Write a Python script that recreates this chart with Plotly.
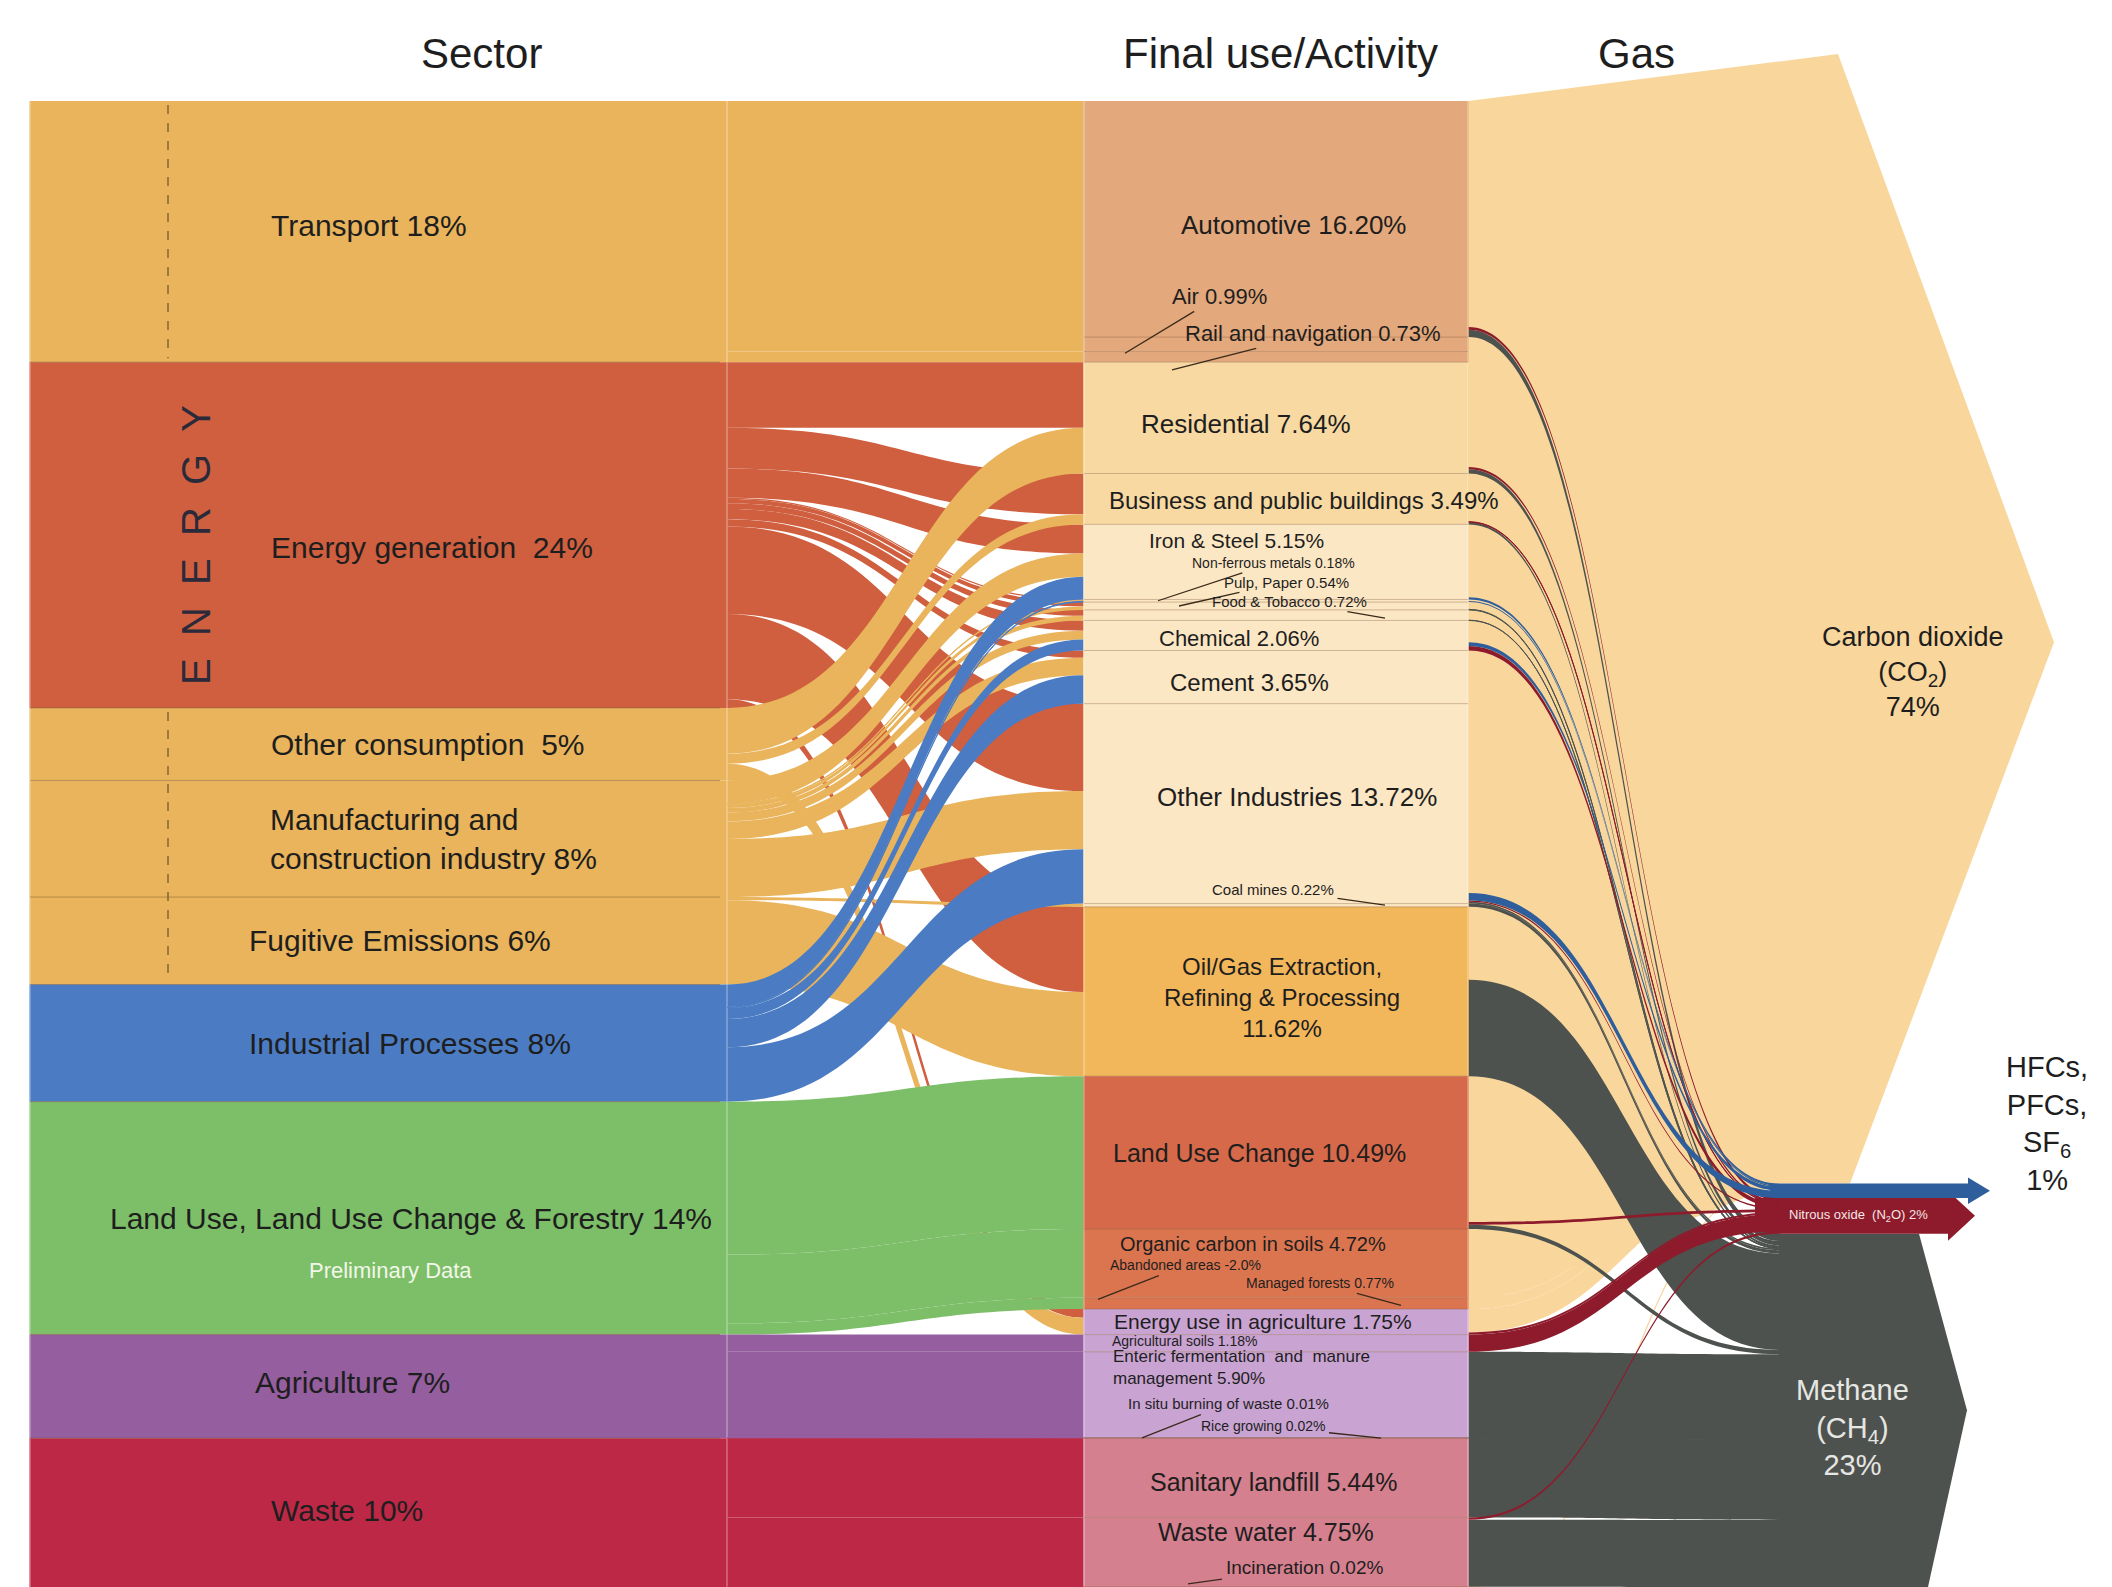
import plotly.graph_objects as go

W, H = 2112, 1587
TOP = 101          # px where the flow region starts
FONT = "Liberation Sans, Arial, Helvetica, sans-serif"

# ---------------- data ----------------
sectors = ["Transport", "Energy generation", "Other consumption",
           "Manufacturing and construction industry", "Fugitive Emissions",
           "Industrial Processes", "Land Use, Land Use Change & Forestry",
           "Agriculture", "Waste"]
sector_labels = ["Transport 18%", "Energy generation\u00a0 24%", "Other consumption\u00a0 5%",
                 "Manufacturing and<br>construction industry 8%", "Fugitive Emissions 6%",
                 "Industrial Processes 8%", "Land Use, Land Use Change & Forestry 14%",
                 "Agriculture 7%", "Waste 10%"]
sector_colors = ["#E9B45B", "#CF5F3F", "#E9B45B", "#E9B45B", "#E9B45B",
                 "#4B7CC3", "#7DBF68", "#955E9F", "#BD2846"]

activities = ["Automotive", "Air", "Rail and navigation", "Residential",
              "Business and public buildings", "Iron & Steel", "Non-ferrous metals",
              "Pulp, Paper", "Food & Tobacco", "Chemical", "Cement", "Other Industries",
              "Coal mines", "Oil/Gas Extraction, Refining & Processing", "Land Use Change",
              "Organic carbon in soils", "Managed forests", "Energy use in agriculture",
              "Agricultural soils", "Enteric fermentation and manure management",
              "In situ burning of waste", "Rice growing", "Sanitary landfill",
              "Waste water", "Incineration"]
activity_colors = ["#E3A87B", "#E3A87B", "#E3A87B", "#F8D9A2", "#F8D9A2",
                   "#FCE7C4", "#FCE7C4", "#FCE7C4", "#FCE7C4", "#FCE7C4", "#FCE7C4",
                   "#FCE7C4", "#FCE7C4", "#F2B65B", "#D6694A", "#DB7550", "#DB7550",
                   "#C9A3D2", "#C9A3D2", "#C9A3D2", "#C9A3D2", "#C9A3D2",
                   "#D5808F", "#D5808F", "#D5808F"]

gases = ["CO2", "HFCs", "N2O", "CH4"]
gas_colors = ["#F9D79C", "#2F5E9C", "#8E1B2B", "#4E524F"]

# sector -> final use / activity (% of total emissions)
sa_from = ["Transport", "Transport", "Transport",
           "Energy generation", "Energy generation", "Energy generation", "Energy generation",
           "Energy generation", "Energy generation", "Energy generation", "Energy generation",
           "Energy generation", "Energy generation", "Energy generation",
           "Other consumption", "Other consumption", "Other consumption",
           "Manufacturing and construction industry", "Manufacturing and construction industry",
           "Manufacturing and construction industry", "Manufacturing and construction industry",
           "Manufacturing and construction industry", "Manufacturing and construction industry",
           "Manufacturing and construction industry",
           "Fugitive Emissions", "Fugitive Emissions",
           "Industrial Processes", "Industrial Processes", "Industrial Processes",
           "Industrial Processes", "Industrial Processes",
           "Land Use, Land Use Change & Forestry", "Land Use, Land Use Change & Forestry",
           "Land Use, Land Use Change & Forestry",
           "Agriculture", "Agriculture", "Agriculture", "Agriculture",
           "Waste", "Waste", "Waste"]
sa_to = ["Automotive", "Air", "Rail and navigation",
         "Residential", "Business and public buildings", "Iron & Steel", "Non-ferrous metals",
         "Pulp, Paper", "Food & Tobacco", "Chemical", "Cement", "Other Industries",
         "Oil/Gas Extraction, Refining & Processing", "Energy use in agriculture",
         "Residential", "Business and public buildings", "Energy use in agriculture",
         "Iron & Steel", "Non-ferrous metals", "Pulp, Paper", "Food & Tobacco", "Chemical",
         "Cement", "Other Industries",
         "Coal mines", "Oil/Gas Extraction, Refining & Processing",
         "Iron & Steel", "Non-ferrous metals", "Chemical", "Cement", "Other Industries",
         "Land Use Change", "Organic carbon in soils", "Managed forests",
         "Agricultural soils", "Enteric fermentation and manure management",
         "In situ burning of waste", "Rice growing",
         "Sanitary landfill", "Waste water", "Incineration"]
sa_val = [16.20, 0.99, 0.73,
          4.50, 2.80, 2.00, 0.08, 0.30, 0.40, 0.70, 0.50, 6.00, 5.84, 0.60,
          3.14, 0.69, 1.15,
          1.60, 0.05, 0.24, 0.32, 0.60, 1.20, 3.99,
          0.22, 5.78,
          1.55, 0.05, 0.76, 1.95, 3.73,
          10.49, 4.72, 0.77,
          1.18, 5.90, 0.01, 0.02,
          5.44, 4.75, 0.02]

# activity -> gas
ag_from = ["Automotive", "Automotive", "Automotive", "Air", "Rail and navigation",
           "Residential", "Residential", "Residential",
           "Business and public buildings", "Business and public buildings",
           "Business and public buildings",
           "Iron & Steel", "Iron & Steel", "Non-ferrous metals", "Non-ferrous metals",
           "Pulp, Paper", "Pulp, Paper", "Food & Tobacco", "Food & Tobacco",
           "Chemical", "Chemical", "Chemical", "Cement",
           "Other Industries", "Other Industries", "Other Industries", "Other Industries",
           "Coal mines",
           "Oil/Gas Extraction, Refining & Processing", "Oil/Gas Extraction, Refining & Processing",
           "Land Use Change", "Land Use Change", "Land Use Change",
           "Organic carbon in soils", "Managed forests",
           "Energy use in agriculture", "Energy use in agriculture",
           "Agricultural soils", "Enteric fermentation and manure management",
           "In situ burning of waste", "Rice growing", "Sanitary landfill",
           "Waste water", "Waste water", "Incineration"]
ag_to = ["CO2", "N2O", "CH4", "CO2", "CO2",
         "CO2", "N2O", "CH4",
         "CO2", "N2O", "CH4",
         "CO2", "HFCs", "CO2", "HFCs",
         "CO2", "CH4", "CO2", "CH4",
         "CO2", "HFCs", "N2O", "CO2",
         "CO2", "HFCs", "N2O", "CH4",
         "CH4",
         "CO2", "CH4",
         "CO2", "N2O", "CH4",
         "CO2", "CO2",
         "CO2", "N2O",
         "N2O", "CH4",
         "CH4", "CH4", "CH4",
         "CH4", "N2O", "CO2"]
ag_val = [15.50, 0.20, 0.50, 0.99, 0.73,
          7.20, 0.14, 0.30,
          3.30, 0.04, 0.15,
          5.00, 0.15, 0.10, 0.08,
          0.50, 0.04, 0.70, 0.02,
          1.50, 0.26, 0.30, 3.65,
          13.00, 0.50, 0.10, 0.12,
          0.22,
          5.00, 6.62,
          10.00, 0.19, 0.30,
          4.72, 0.77,
          1.60, 0.15,
          1.18, 5.90,
          0.01, 0.02, 5.44,
          4.60, 0.15, 0.02]

# ---------------- layout helpers ----------------
sec_tot = [sum(v for s, v in zip(sa_from, sa_val) if s == n) for n in sectors]
act_tot = [sum(v for a, v in zip(sa_to, sa_val) if a == n) for n in activities]
gas_tot = [sum(v for g, v in zip(ag_to, ag_val) if g == n) for n in gases]
T = sum(sec_tot)
HD = H - TOP


def stack(vals):
    out, c = [], 0.0
    for v in vals:
        out.append((c, c + v))
        c += v
    return out


sec_ext, act_ext, gas_ext = stack(sec_tot), stack(act_tot), stack(gas_tot)


def ypx(v):
    return TOP + v / T * HD


def cen(ext):
    return ypx((ext[0] + ext[1]) / 2)


def xp(px):
    return px / W


def yp(px):
    return 1 - px / H


COLX = [30, 727, 1084, 1468, 1780]
NS, NA, NG = len(sectors), len(activities), len(gases)

node_x, node_y, node_c = [], [], []
for col, (ext, cols) in enumerate([(sec_ext, sector_colors), (sec_ext, sector_colors),
                                   (act_ext, activity_colors), (act_ext, activity_colors),
                                   (gas_ext, gas_colors)]):
    for (a, b), c in zip(ext, cols):
        node_x.append(COLX[col] / W)
        node_y.append((a + b) / 2 / T)
        node_c.append(c)

src, tgt, val, lcol = [], [], [], []
for i in range(NS):
    src.append(i); tgt.append(NS + i); val.append(sec_tot[i]); lcol.append(sector_colors[i])
for s, a, v in zip(sa_from, sa_to, sa_val):
    si = sectors.index(s)
    src.append(NS + si); tgt.append(2 * NS + activities.index(a)); val.append(v)
    lcol.append(sector_colors[si])
for j in range(NA):
    src.append(2 * NS + j); tgt.append(2 * NS + NA + j); val.append(act_tot[j])
    lcol.append(activity_colors[j])
# gas flows: CO2 first so that the thin CH4 / N2O / HFC flows are drawn on top
draw_order = ["CO2", "CH4", "N2O", "HFCs"]
for gname in draw_order:
    for a, g, v in zip(ag_from, ag_to, ag_val):
        if g != gname:
            continue
        gi = gases.index(g)
        src.append(2 * NS + NA + activities.index(a)); tgt.append(2 * NS + 2 * NA + gi)
        val.append(v); lcol.append(gas_colors[gi])

fig = go.Figure(go.Sankey(
    arrangement="fixed",
    domain=dict(x=[0, 1], y=[0, 1 - TOP / H]),
    node=dict(pad=0, thickness=1, x=node_x, y=node_y, color=node_c,
              line=dict(color="rgba(255,255,255,0)", width=0), hoverinfo="none"),
    link=dict(source=src, target=tgt, value=val, color=lcol,
              line=dict(color="rgba(255,255,255,0.6)", width=0), hoverinfo="none"),
))

# ---------------- gas arrows and dividers (shapes) ----------------
co2_top, co2_bot = ypx(gas_ext[0][0]), ypx(gas_ext[0][1])
hfc_top, hfc_bot = ypx(gas_ext[1][0]), ypx(gas_ext[1][1])
n2o_top, n2o_bot = ypx(gas_ext[2][0]), ypx(gas_ext[2][1])
ch4_top, ch4_bot = ypx(gas_ext[3][0]), ypx(gas_ext[3][1])
ll = ypx(act_ext[activities.index("Managed forests")][1])


def path(pts):
    return "M " + " L ".join(f"{xp(x):.5f},{yp(y):.5f}" for x, y in pts) + " Z"


shapes = [
    dict(type="path", xref="paper", yref="paper", layer="below", line=dict(width=0),
         fillcolor=gas_colors[0],
         path=path([(1468, co2_top), (1838, 54), (2054, (co2_top + co2_bot) / 2),
                    (1850, co2_bot), (1780, co2_bot), (1468, ll)])),
    dict(type="path", xref="paper", yref="paper", layer="below", line=dict(width=0),
         fillcolor=gas_colors[3],
         path=path([(1779, ch4_top), (1919, ch4_top), (1967, (ch4_top + ch4_bot) / 2),
                    (1928, ch4_bot), (1779, ch4_bot)])),
    dict(type="path", xref="paper", yref="paper", layer="below", line=dict(width=0),
         fillcolor=gas_colors[2],
         path=path([(1755, n2o_top), (1948, n2o_top), (1948, n2o_top - 7),
                    (1975, (n2o_top + n2o_bot) / 2), (1948, n2o_bot + 7),
                    (1948, n2o_bot), (1755, n2o_bot)])),
    dict(type="path", xref="paper", yref="paper", layer="below", line=dict(width=0),
         fillcolor=gas_colors[1],
         path=path([(1770, hfc_top), (1968, hfc_top), (1968, hfc_top - 6),
                    (1990, (hfc_top + hfc_bot) / 2), (1968, hfc_bot + 6),
                    (1968, hfc_bot), (1770, hfc_bot)])),
    dict(type="line", xref="paper", yref="paper", layer="above",
         x0=xp(168), x1=xp(168), y0=yp(ypx(sec_ext[0][0]) + 4), y1=yp(ypx(sec_ext[0][1]) - 4),
         line=dict(color="rgba(110,80,40,0.8)", width=1.5, dash="dash")),
    dict(type="line", xref="paper", yref="paper", layer="above",
         x0=xp(168), x1=xp(168), y0=yp(ypx(sec_ext[2][0]) + 4), y1=yp(ypx(sec_ext[4][1]) - 4),
         line=dict(color="rgba(110,80,40,0.8)", width=1.5, dash="dash")),
]
# thin divider lines between stacked blocks
for a, b in sec_ext[1:]:
    shapes.append(dict(type="line", xref="paper", yref="paper", layer="above",
                       x0=xp(30), x1=xp(720), y0=yp(ypx(a)), y1=yp(ypx(a)),
                       line=dict(color="rgba(120,85,45,0.45)", width=1)))
for a, b in act_ext[1:]:
    shapes.append(dict(type="line", xref="paper", yref="paper", layer="above",
                       x0=xp(1084), x1=xp(1468), y0=yp(ypx(a)), y1=yp(ypx(a)),
                       line=dict(color="rgba(140,95,60,0.4)", width=1)))

# ---------------- text ----------------
ann = []


def label(text, x, y, size, color="#1e1e1e", xanchor="center", target=None, align="center"):
    d = dict(text=text, xref="paper", yref="paper", xanchor=xanchor, yanchor="middle",
             align=align, font=dict(family=FONT, size=size, color=color))
    if target is None:
        d.update(x=xp(x), y=yp(y), showarrow=False)
    else:
        tx, ty = target
        d.update(x=xp(tx), y=yp(ty), ax=x - tx, ay=y - ty, showarrow=True, arrowhead=0,
                 arrowwidth=1.3, arrowcolor="#3a2a1a", standoff=0, startstandoff=2)
    ann.append(d)


# headers
label("Sector", 481, 54, 42)
label("Final use/Activity", 1280, 54, 42)
label("Gas", 1636, 54, 42)

# sector labels
sector_lx = [269, 269, 269, 268, 247, 247, 108, 253, 269]
sector_dy = [-6, 12, 0, 0, 0, 0, 0, -4, -2]
for i in range(NS):
    label(sector_labels[i], sector_lx[i], cen(sec_ext[i]) + sector_dy[i], 30,
          xanchor="left", align="left")
label("Preliminary Data", 307, cen(sec_ext[6]) + 52, 22, color="#F3F6EA", xanchor="left")
ann.append(dict(text="E\u00a0\u00a0N\u00a0\u00a0E\u00a0\u00a0R\u00a0\u00a0G\u00a0\u00a0Y",
                x=xp(172), y=yp(cen(sec_ext[1]) + 10), xref="paper", yref="paper",
                showarrow=False, textangle=-90,
                font=dict(family=FONT, size=40, color="#2a2a3a")))

# activity labels: (activity, text, x, dy from block centre, size, leader target, anchor)
act_specs = [
    ("Automotive", "Automotive 16.20%", 1293, 6, 26, None, "center"),
    ("Air", "Air 0.99%", 1219, -48, 22, (1125, 9), "center"),
    ("Rail and navigation", "Rail and navigation 0.73%", 1313, -23, 22, (1172, 13), "center"),
    ("Residential", "Residential 7.64%", 1246, 6, 26, None, "center"),
    ("Business and public buildings", "Business and public buildings 3.49%", 1304, 2, 24, None, "center"),
    ("Iron & Steel", "Iron & Steel 5.15%", 1236, -21, 21, None, "center"),
    ("Non-ferrous metals", "Non-ferrous metals 0.18%", 1273, -38, 14, (1158, 0), "center"),
    ("Pulp, Paper", "Pulp, Paper 0.54%", 1286, -24, 15, (1179, 0), "center"),
    ("Food & Tobacco", "Food & Tobacco 0.72%", 1289, -14, 15, (1385, 3), "center"),
    ("Chemical", "Chemical 2.06%", 1239, 3, 22, None, "center"),
    ("Cement", "Cement 3.65%", 1249, 5, 24, None, "center"),
    ("Other Industries", "Other Industries 13.72%", 1297, -7, 26, None, "center"),
    ("Coal mines", "Coal mines 0.22%", 1273, -16, 15, (1385, 0), "center"),
    ("Oil/Gas Extraction, Refining & Processing",
     "Oil/Gas Extraction,<br>Refining & Processing<br>11.62%", 1282, 6, 24, None, "center"),
    ("Land Use Change", "Land Use Change 10.49%", 1259, 0, 25, None, "center"),
    ("Organic carbon in soils", "Organic carbon in soils 4.72%", 1253, -19, 20, None, "center"),
    ("Organic carbon in soils", "Abandoned areas -2.0%", 1185, 2, 14, (1098, 36), "center"),
    ("Managed forests", "Managed forests 0.77%", 1320, -20, 14, (1401, 2), "center"),
    ("Energy use in agriculture", "Energy use in agriculture 1.75%", 1263, 0, 21, None, "center"),
    ("Agricultural soils", "Agricultural soils 1.18%", 1185, -2, 14, None, "center"),
    ("Enteric fermentation and manure management",
     "Enteric fermentation\u00a0 and\u00a0 manure<br>management 5.90%", 1111, -27, 17, None, "left"),
    ("In situ burning of waste", "In situ burning of waste 0.01%", 1228, -34, 15, (1142, 0), "center"),
    ("Rice growing", "Rice growing 0.02%", 1263, -12, 14, (1381, 0), "center"),
    ("Sanitary landfill", "Sanitary landfill 5.44%", 1273, 4, 25, None, "center"),
    ("Waste water", "Waste water 4.75%", 1266, -20, 25, None, "center"),
    ("Incineration", "Incineration 0.02%", 1304, -19, 19, (1188, -3), "center"),
]
for name, text, x, dy, size, tgt_rel, anchor in act_specs:
    c = cen(act_ext[activities.index(name)])
    target = None if tgt_rel is None else (tgt_rel[0], c + tgt_rel[1])
    label(text, x, c + dy, size, xanchor=anchor, target=target,
          align="left" if anchor == "left" else "center")

# gas labels
label("Carbon dioxide<br>(CO<sub>2</sub>)<br>74%", 1913, cen(gas_ext[0]) + 30, 27)
label("HFCs,<br>PFCs,<br>SF<sub>6</sub><br>1%", 2047, cen(gas_ext[1]) - 67, 29)
label("Nitrous oxide\u00a0 (N<sub>2</sub>O) 2%", 1858, cen(gas_ext[2]), 13, color="#F4E6E6")
label("Methane<br>(CH<sub>4</sub>)<br>23%", 1852, cen(gas_ext[3]) + 17, 29, color="#E6E6E2")

fig.update_layout(width=W, height=H, margin=dict(l=0, r=0, t=0, b=0),
                  paper_bgcolor="white", plot_bgcolor="white",
                  shapes=shapes, annotations=ann, showlegend=False,
                  font=dict(family=FONT))

fig.write_html("out.html", config={"displayModeBar": False},
               post_script="document.body.style.margin='0px';")
